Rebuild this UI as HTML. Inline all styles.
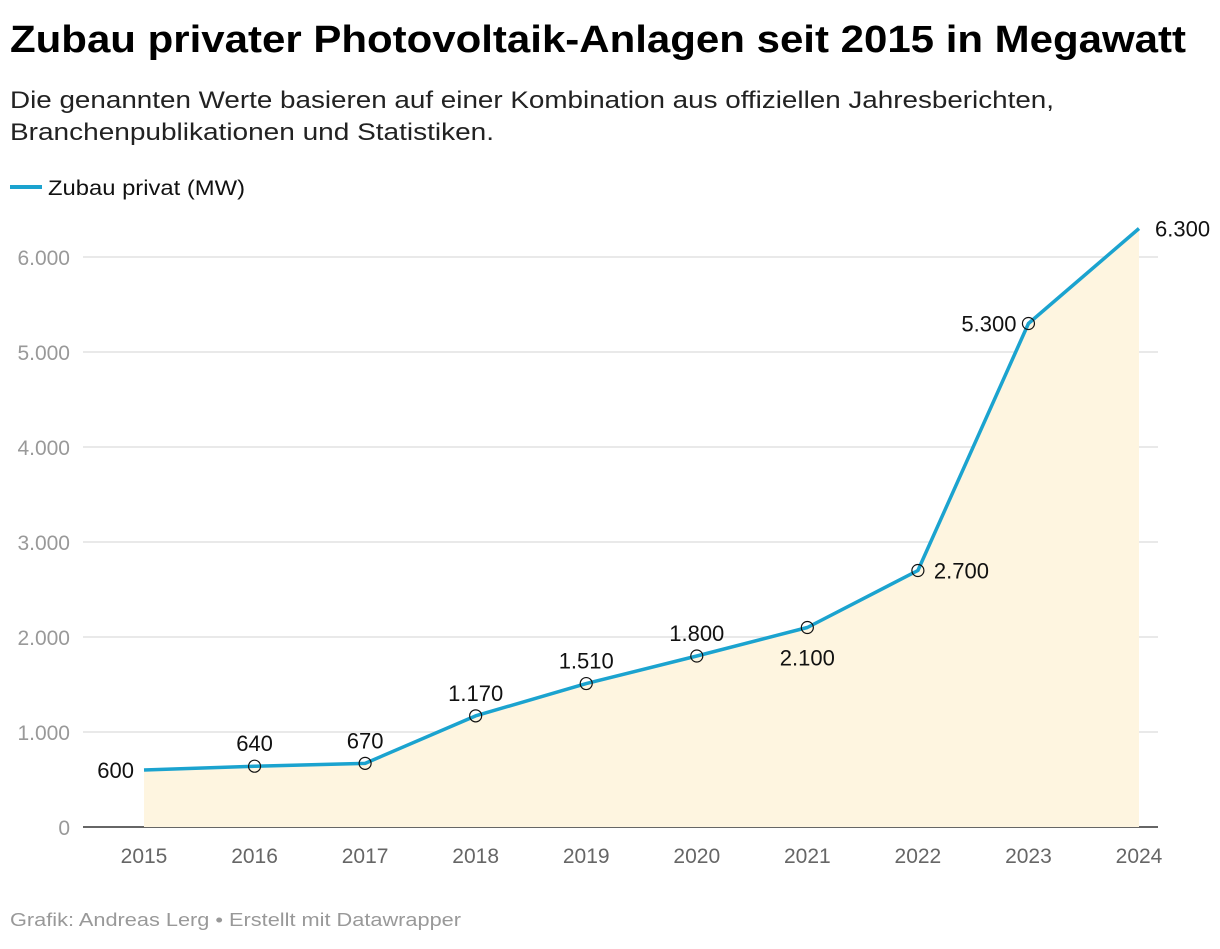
<!DOCTYPE html>
<html><head><meta charset="utf-8"><style>
body{margin:0;background:#fff;width:1220px;height:944px;overflow:hidden;font-family:"Liberation Sans",sans-serif}
</style></head><body>
<svg id="chart" width="1220" height="944" xmlns="http://www.w3.org/2000/svg" font-family="Liberation Sans, sans-serif">
<text x="10" y="52" font-size="38" font-weight="bold" fill="#000" textLength="1176" lengthAdjust="spacingAndGlyphs">Zubau privater Photovoltaik-Anlagen seit 2015 in Megawatt</text>
<text x="10" y="108" font-size="24" fill="#222" textLength="1044" lengthAdjust="spacingAndGlyphs">Die genannten Werte basieren auf einer Kombination aus offiziellen Jahresberichten,</text>
<text x="10" y="140" font-size="24" fill="#222" textLength="484" lengthAdjust="spacingAndGlyphs">Branchenpublikationen und Statistiken.</text>
<g>
<line x1="10" y1="187" x2="42" y2="187" stroke="#1ba3cf" stroke-width="4"/>
<text x="48" y="195" font-size="21" fill="#111" textLength="197" lengthAdjust="spacingAndGlyphs">Zubau privat (MW)</text>
</g>
<g id="grid"></g><g id="area"></g><g id="marks"></g>
<text x="10" y="926" font-size="18" fill="#999" textLength="451" lengthAdjust="spacingAndGlyphs">Grafik: Andreas Lerg • Erstellt mit Datawrapper</text>
</svg>
<script>
const years=[2015,2016,2017,2018,2019,2020,2021,2022,2023,2024];
const values=[600,640,670,1170,1510,1800,2100,2700,5300,6300];
const yTicks=[0,1000,2000,3000,4000,5000,6000];
const yTickLabels=["0","1.000","2.000","3.000","4.000","5.000","6.000"];
const valueLabels=["600","640","670","1.170","1.510","1.800","2.100","2.700","5.300","6.300"];
const labelPos=["left","above","above","above","above","above","below","right","left","right"];
const NS="http://www.w3.org/2000/svg";
const x=i=>144+i*(1139-144)/(years.length-1);
const y=v=>827-v*(827-257)/6000;
function mk(t,a,p){const e=document.createElementNS(NS,t);for(const k in a)e.setAttribute(k,a[k]);p.appendChild(e);return e;}
const grid=document.getElementById('grid'),area=document.getElementById('area'),marks=document.getElementById('marks');
yTicks.forEach((v,i)=>{
 if(v>0){const l=mk('line',{x1:83,x2:1158,y1:y(v),y2:y(v),stroke:'#e2e2e2','stroke-width':1.5},grid);
 
 }
 const t=mk('text',{x:70,y:y(v)+8,'text-anchor':'end','font-size':21,fill:'#999'},grid);t.textContent=yTickLabels[i];
 
 
});
const base=mk('line',{x1:83,x2:1158,y1:827,y2:827,stroke:'#333','stroke-width':1.5},grid);


years.forEach((yr,i)=>{const t=mk('text',{x:x(i),y:863,'text-anchor':'middle','font-size':21,fill:'#666'},grid);t.textContent=yr;
 
 });
let d='M'+x(0)+' 827';values.forEach((v,i)=>d+=' L'+x(i)+' '+y(v));d+=' L'+x(values.length-1)+' 827Z';
const ar=mk('path',{d:d,fill:'#fef5e0'},area);


const ln=mk('polyline',{points:values.map((v,i)=>x(i)+','+y(v)).join(' '),fill:'none',stroke:'#1ba3cf','stroke-width':3.5,'stroke-linejoin':'round'},marks);


values.forEach((v,i)=>{
 if(i>0&&i<values.length-1){const c=mk('circle',{cx:x(i),cy:y(v),r:6,fill:'none',stroke:'#111','stroke-width':1.2},marks);
 
 }
 let lx=x(i),ly=y(v)+8,an='middle';
 if(labelPos[i]==='above')ly=y(v)-15;
 if(labelPos[i]==='below')ly=y(v)+38;
 if(labelPos[i]==='left'){lx=x(i)-12;an='end';}
 if(labelPos[i]==='right'){lx=x(i)+16;an='start';}
 if(i===0)lx=x(i)-10;
 const t=mk('text',{x:lx,y:ly,'text-anchor':an,'font-size':22,fill:'#111'},marks);t.textContent=valueLabels[i];
 
 
});
</script>
</body></html>
